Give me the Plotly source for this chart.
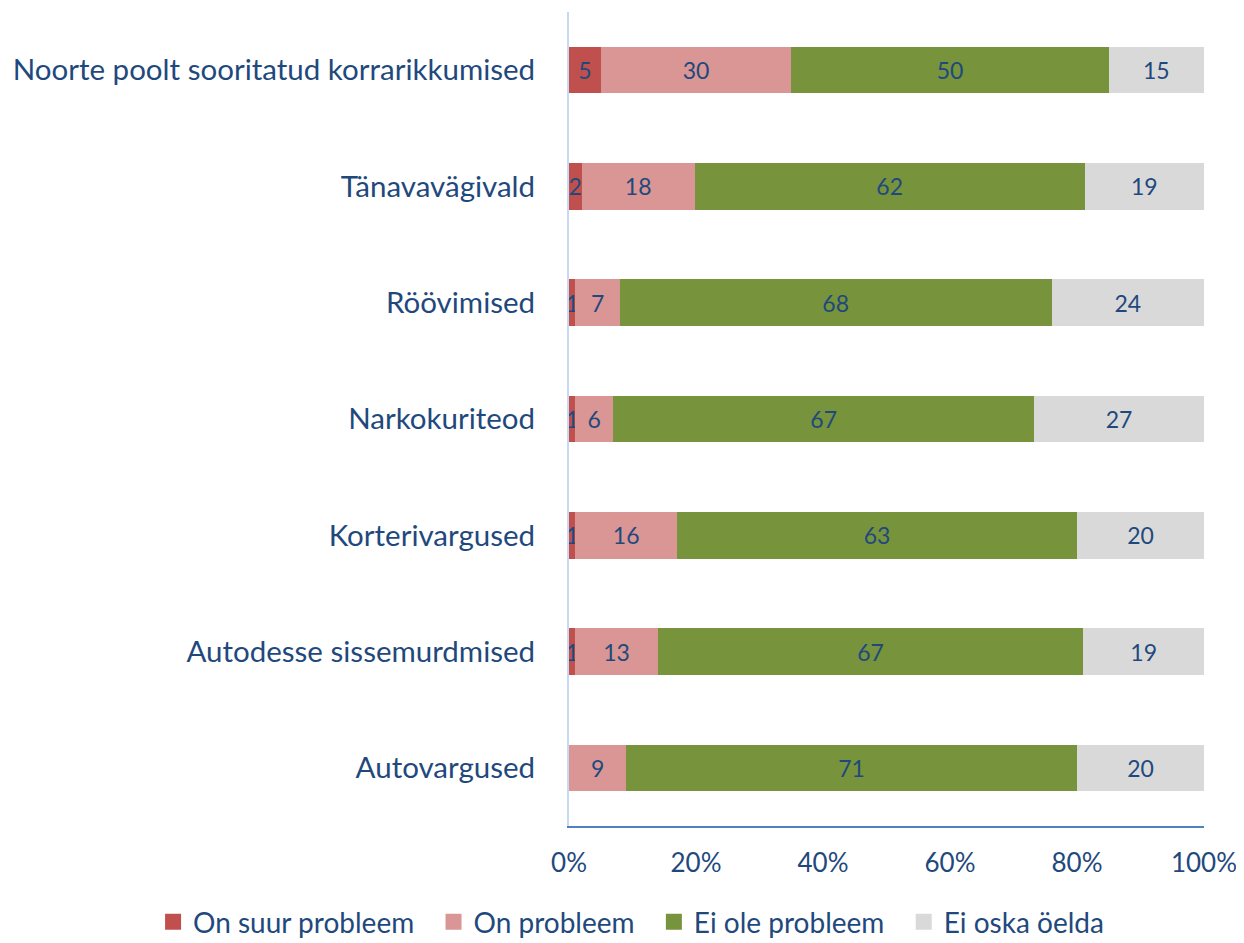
import plotly.graph_objects as go

# categories top to bottom
categories = [
    "Noorte poolt sooritatud korrarikkumised",
    "Tänavavägivald",
    "Röövimised",
    "Narkokuriteod",
    "Korterivargused",
    "Autodesse sissemurdmised",
    "Autovargused",
]
on_suur = [5, 2, 1, 1, 1, 1, 0]
on_probleem = [30, 18, 7, 6, 16, 13, 9]
ei_ole = [50, 62, 68, 67, 63, 67, 71]
ei_oska = [15, 19, 24, 27, 20, 19, 20]

series = [
    ("On suur probleem", on_suur, "#C0504D"),
    ("On probleem", on_probleem, "#D99694"),
    ("Ei ole probleem", ei_ole, "#77933C"),
    ("Ei oska öelda", ei_oska, "#D9D9D9"),
]

txt_color = "#1F497D"
font = "Lato, Calibri, sans-serif"

fig = go.Figure()
for name, vals, col in series:
    fig.add_trace(go.Bar(
        y=categories, x=vals, name=name, orientation="h",
        marker=dict(color=col, line=dict(width=0)),
        text=[str(v) if v else "" for v in vals],
        textposition="inside", insidetextanchor="middle",
        textfont=dict(size=23, color=txt_color, family=font),
        cliponaxis=False, showlegend=False,
    ))

# legend entries with bigger square swatches
for name, vals, col in series:
    fig.add_trace(go.Scatter(
        x=[None], y=[None], mode="markers", name=name + "\u00a0\u00a0",
        marker=dict(symbol="square", size=17, color=col),
    ))

fig.update_layout(
    barmode="stack", barnorm="percent", bargap=0.6,
    width=1244, height=943,
    margin=dict(l=561, r=48, t=4, b=121),
    plot_bgcolor="white", paper_bgcolor="white",
    font=dict(family=font, color=txt_color),
    uniformtext=dict(minsize=23, mode="show"),
    legend=dict(orientation="h", x=-0.655, xanchor="left",
                y=-0.118, yanchor="middle",
                font=dict(size=28, color=txt_color), traceorder="normal",
                itemsizing="trace", itemwidth=30),
    showlegend=True,
)
fig.update_xaxes(range=[0, 100], tickvals=[0, 20, 40, 60, 80, 100],
                 ticktext=["0%", "20%", "40%", "60%", "80%", "100%"],
                 showgrid=False, zeroline=False, showline=True,
                 linecolor="#4F81BD", linewidth=2, ticks="", automargin=False,
                 tickfont=dict(size=26, color=txt_color), ticklabelstandoff=13)
fig.update_yaxes(autorange="reversed", showgrid=False, showline=True,
                 linecolor="#C6D9F1", linewidth=2, ticks="", automargin=False,
                 tickfont=dict(size=29.5, color=txt_color), ticklabelstandoff=26)

fig.write_html("out.html")
